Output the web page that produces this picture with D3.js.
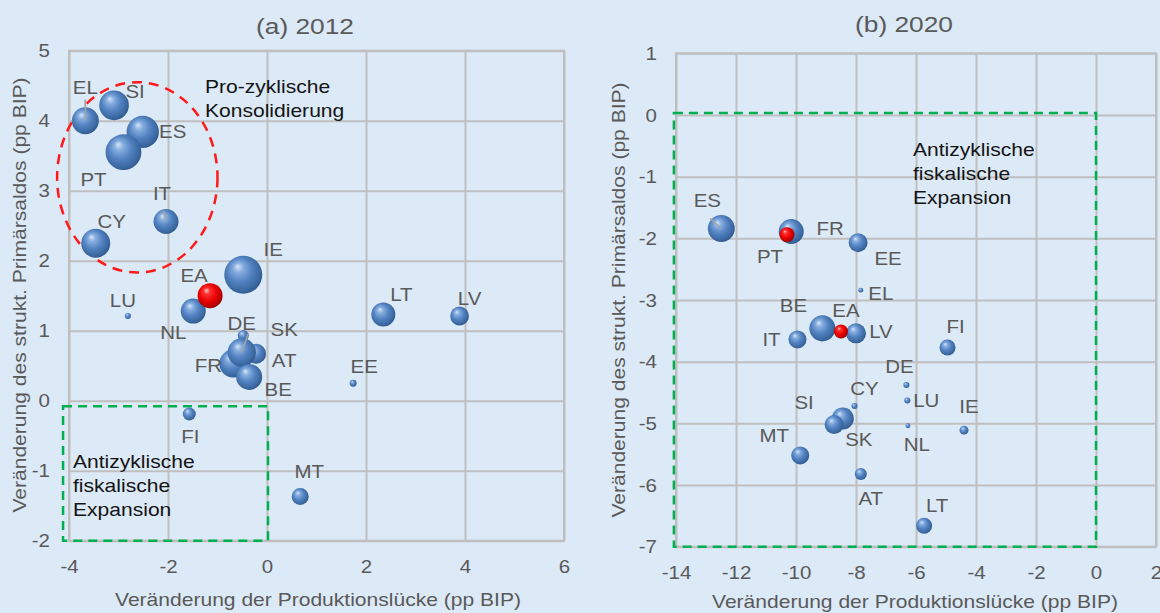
<!DOCTYPE html>
<html>
<head>
<meta charset="utf-8">
<script src="https://cdn.jsdelivr.net/npm/d3@7"></script>
<style>
  html, body { margin: 0; padding: 0; background: #dce9f7; }
  svg { display: block; }
  text { font-family: "Liberation Sans", Arial, sans-serif; }
</style>
</head>
<body>
<svg id="chart" width="1160" height="613"></svg>
<script>
// ---------------- DATA ----------------
// Panel (a) 2012
const countriesA = ["EL","SI","ES","PT","IT","CY","IE","NL","EA","LU","LT","LV","FR","AT","SK","DE","BE","EE","FI","MT"];
const gapA       = [-3.67,-3.09,-2.51,-2.90,-2.04,-3.46,-0.48,-1.49,-1.15,-2.81, 2.35, 3.89,-0.68,-0.22,-0.48,-0.51,-0.36, 1.74,-1.57, 0.67];
const balanceA   = [ 4.00, 4.22, 3.84, 3.55, 2.56, 2.25, 1.80, 1.28, 1.50, 1.21, 1.23, 1.21, 0.53, 0.67, 0.93, 0.69, 0.34, 0.25,-0.19,-1.37];
const sizeA      = [  182,  220,  260,  320,  156,  210,  361,  156,  156,    9,  144,   88,  196,  100,   30,  200,  169,   12,   42,   72];
const redA       = ["EA"];

// Panel (b) 2020
const countriesB = ["ES","FR","PT","EE","EL","BE","LV","EA","IT","FI","DE","LU","CY","NL","IE","SK","SI","MT","AT","LT"];
const gapB       = [-12.49,-10.16,-10.30,-7.93,-7.84,-9.12,-8.00,-8.50,-9.95,-4.95,-6.32,-6.29,-8.05,-6.27,-4.40,-8.44,-8.73,-9.86,-7.84,-5.73];
const balanceB   = [ -1.84, -1.89, -1.94,-2.07,-2.84,-3.46,-3.54,-3.51,-3.64,-3.77,-4.38,-4.63,-4.72,-5.04,-5.11,-4.92,-5.02,-5.52,-5.82,-6.66];
const sizeB      = [   182,   156,    56,   90,    6,  170,  100,   49,   81,   64,    9,    9,    9,    6,   20,  121,   90,   81,   36,   64];
const redB       = ["EA","PT"];

// Axis ticks
const xTicksA = [-4,-2,0,2,4,6];
const yTicksA = [-2,-1,0,1,2,3,4,5];
const xTicksB = [-14,-12,-10,-8,-6,-4,-2,0,2];
const yTicksB = [-7,-6,-5,-4,-3,-2,-1,0,1];

// Texts
const titleA = "(a) 2012";
const titleB = "(b) 2020";
const xTitle = "Veränderung der Produktionslücke (pp BIP)";
const yTitle = "Veränderung des strukt.  Primärsaldos (pp BIP)";
const noteProA = ["Pro-zyklische", "Konsolidierung"];
const noteAnti = ["Antizyklische", "fiskalische", "Expansion"];

// ---------------- LAYOUT (pixels) ----------------
const SX = 1.17; // horizontal text stretch of the reference
const labelOffA = [[0,-33],[21,-13],[30,0],[-30,28],[-4,-28],[16,-21],[30,-25],[-20,22],[-16,-20],[-5,-15],
                   [18,-20],[10,-17],[-25,2],[28,7],[41,-6],[0,-29],[29,13],[11,-16],[1,23],[9,-25]];
const labelOffB = [[-14,-28],[39,-3],[-17,22],[30,16],[20,4],[-29,-23],[25,-1],[5,-21],[-26,0],[8,-21],
                   [-7,-18],[19,0],[10,-17],[9,19],[5,-23],[16,21],[-30,-22],[-26,-20],[10,25],[13,-20]];
// leader lines: [countryIndex, startDx, startDy]
const leadersA = [[0,0,-21],[4,-2.5,-11],[15,6.5,-19]];
const leadersB = [[0,-11,-10]];

const svg = d3.select("#chart");
svg.append("rect").attr("width",1160).attr("height",613).attr("fill","#dce9f7");

const defs = svg.append("defs");
function sphereGrad(id, stops) {
  const g = defs.append("radialGradient").attr("id", id)
    .attr("cx","45%").attr("cy","45%").attr("r","60%").attr("fx","35%").attr("fy","28%");
  stops.forEach(s => g.append("stop").attr("offset", s[0]).attr("stop-color", s[1]));
}
sphereGrad("blueBall", [["0%","#d6e6f8"],["22%","#86addf"],["55%","#5181c0"],["85%","#3a679f"],["100%","#2c5284"]]);
sphereGrad("redBall",  [["0%","#ffc4c4"],["22%","#ff3030"],["60%","#e80000"],["88%","#b00000"],["100%","#820000"]]);

const GRID = "#bfbfbf";
const TXT = "#595959";

function addText(g, x, y, s, size, fill, anchor = "middle", rot = 0) {
  return g.append("text")
    .attr("transform", `translate(${x},${y}) rotate(${rot}) scale(${SX},1)`)
    .attr("text-anchor", anchor)
    .attr("dy", "0.35em")
    .attr("font-size", size)
    .attr("fill", fill)
    .text(s);
}

function panel(cfg) {
  const g = svg.append("g");
  const x = d3.scaleLinear().domain(cfg.xDomain).range(cfg.xRange);
  const y = d3.scaleLinear().domain(cfg.yDomain).range(cfg.yRange);
  const r = d3.scaleSqrt().domain([0, 400]).range([0, 20]);
  const top = cfg.yRange[1], bottom = cfg.yRange[0], left = cfg.xRange[0], right = cfg.xRange[1];

  // gridlines
  const gx = g.append("g").attr("transform", `translate(0,${bottom})`)
    .call(d3.axisBottom(x).tickValues(cfg.xTicks).tickSize(-(bottom - top)).tickFormat(d => String(d)));
  const gy = g.append("g").attr("transform", `translate(${left},0)`)
    .call(d3.axisLeft(y).tickValues(cfg.yTicks).tickSize(-(right - left)).tickFormat(d => String(d)));
  [gx, gy].forEach(a => {
    a.select(".domain").remove();
    a.selectAll("line").attr("stroke", GRID).attr("stroke-width", 2);
  });
  gx.selectAll("text").attr("x", null).attr("y", null).attr("dy", "0.35em")
    .attr("transform", `translate(0,26.5) scale(${SX},1)`)
    .attr("font-size", 17.5).attr("fill", TXT).attr("font-family", "Liberation Sans, Arial, sans-serif");
  gy.selectAll("text").attr("x", null).attr("dy", "0.35em")
    .attr("transform", `translate(-19,0) scale(${SX},1)`).attr("text-anchor", "end")
    .attr("font-size", 17.5).attr("fill", TXT).attr("font-family", "Liberation Sans, Arial, sans-serif");
  g.append("rect").attr("x", left).attr("y", top).attr("width", right - left).attr("height", bottom - top)
    .attr("fill", "none").attr("stroke", GRID).attr("stroke-width", 2);

  // annotation shapes
  cfg.shapes(g, x, y);

  // leader lines
  cfg.leaders.forEach(([i, dx, dy]) => {
    const cx = x(cfg.gap[i]), cy = y(cfg.bal[i]);
    g.append("line").attr("x1", cx + dx).attr("y1", cy + dy).attr("x2", cx).attr("y2", cy)
      .attr("stroke", "#a6a6a6").attr("stroke-width", 1.5);
  });

  // bubbles
  const pts = cfg.countries.map((c, i) => ({c, gx: cfg.gap[i], by: cfg.bal[i], s: cfg.size[i], red: cfg.red.includes(c), off: cfg.labelOff[i]}));
  g.selectAll("circle.b").data(pts).enter().append("circle")
    .attr("class", "b")
    .attr("cx", d => x(d.gx)).attr("cy", d => y(d.by)).attr("r", d => r(d.s))
    .attr("fill", d => d.red ? "url(#redBall)" : "url(#blueBall)");
  // re-draw leader lines on top of balls (they are visible over balls in reference)
  cfg.leaders.forEach(([i, dx, dy]) => {
    const cx = x(cfg.gap[i]), cy = y(cfg.bal[i]);
    g.append("line").attr("x1", cx + dx).attr("y1", cy + dy).attr("x2", cx).attr("y2", cy)
      .attr("stroke", "#a6a6a6").attr("stroke-width", 1.5);
  });

  // labels
  pts.forEach(d => addText(g, x(d.gx) + d.off[0], y(d.by) + d.off[1], d.c, 17.5, TXT));

  // titles
  addText(g, cfg.titlePos[0], cfg.titlePos[1], cfg.title, 22.5, TXT);
  addText(g, cfg.xTitlePos[0], cfg.xTitlePos[1], xTitle, 18, TXT);
  addText(g, cfg.yTitlePos[0], cfg.yTitlePos[1], yTitle, 18, TXT, "middle", -90);

  cfg.notes(g, x, y);
}

panel({
  xDomain: [-4, 6], xRange: [69, 564],
  yDomain: [-2, 5], yRange: [540.7, 50.7],
  xTicks: xTicksA, yTicks: yTicksA,
  countries: countriesA, gap: gapA, bal: balanceA, size: sizeA, red: redA, labelOff: labelOffA,
  leaders: leadersA,
  title: titleA, titlePos: [305, 26], xTitlePos: [318, 600], yTitlePos: [20, 295],
  shapes: (g, x, y) => {
    g.append("ellipse").attr("cx", x(-2.62)).attr("cy", y(3.19))
      .attr("rx", x(-2.62 + 1.62) - x(-2.62)).attr("ry", y(3.19 - 1.36) - y(3.19))
      .attr("fill", "none").attr("stroke", "#ff1a1a").attr("stroke-width", 2.5).attr("stroke-dasharray", "10,7");
    g.append("rect").attr("x", x(-4.12)).attr("y", y(-0.08))
      .attr("width", x(0.02) - x(-4.12)).attr("height", y(-2.0) - y(-0.08))
      .attr("fill", "none").attr("stroke", "#00b050").attr("stroke-width", 2.5).attr("stroke-dasharray", "9,6");
  },
  notes: (g) => {
    noteProA.forEach((s, i) => addText(g, 205, 86.5 + i * 24, s, 18, "#141414", "start"));
    noteAnti.forEach((s, i) => addText(g, 73, 462 + i * 24, s, 18, "#141414", "start"));
  }
});

panel({
  xDomain: [-14, 2], xRange: [676, 1156],
  yDomain: [-7, 1], yRange: [546.7, 53.3],
  xTicks: xTicksB, yTicks: yTicksB,
  countries: countriesB, gap: gapB, bal: balanceB, size: sizeB, red: redB, labelOff: labelOffB,
  leaders: leadersB,
  title: titleB, titlePos: [904, 24], xTitlePos: [915, 602], yTitlePos: [619, 300],
  shapes: (g, x, y) => {
    g.append("rect").attr("x", x(-14.07)).attr("y", y(0.03))
      .attr("width", x(0) - x(-14.07)).attr("height", y(-7.0) - y(0.03))
      .attr("fill", "none").attr("stroke", "#00b050").attr("stroke-width", 2.5).attr("stroke-dasharray", "9,6");
  },
  notes: (g) => {
    noteAnti.forEach((s, i) => addText(g, 913, 150 + i * 24, s, 18, "#141414", "start"));
  }
});
</script>
</body>
</html>
